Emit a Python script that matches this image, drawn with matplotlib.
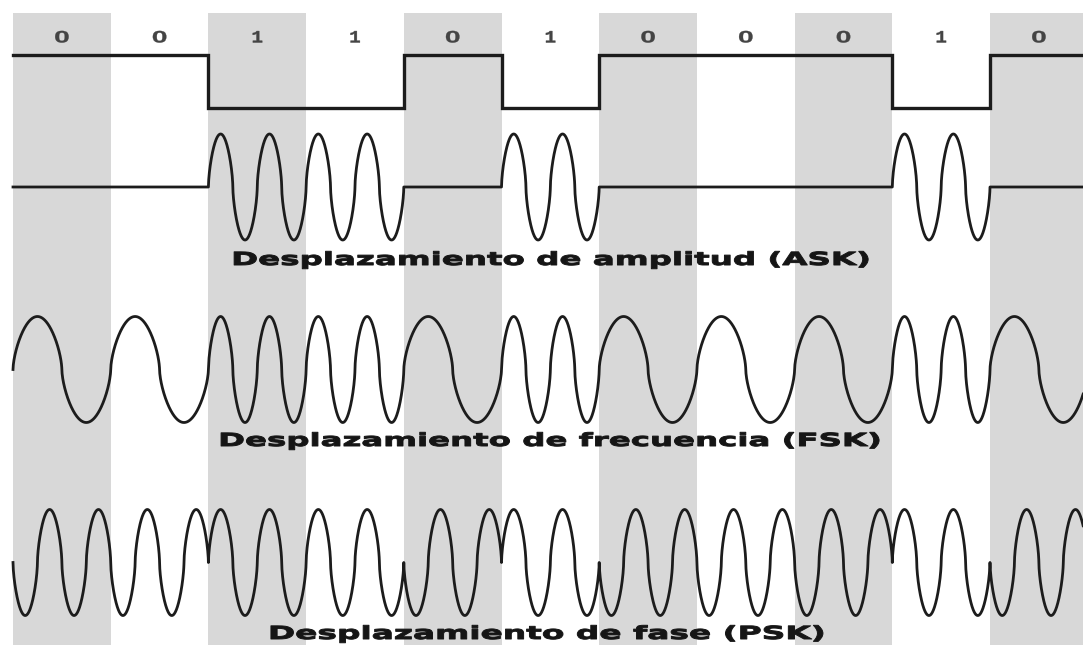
import numpy as np
import matplotlib
matplotlib.use("Agg")
import matplotlib.pyplot as plt
from matplotlib.patheffects import AbstractPathEffect
from matplotlib.transforms import Affine2D

# bit sequence shown on top
bits = [0, 0, 1, 1, 0, 1, 0, 0, 0, 1, 0]
bit_labels = [str(b) for b in bits]
titles = ["Desplazamiento de amplitud (ASK)",
          "Desplazamiento de frecuencia (FSK)",
          "Desplazamiento de fase (PSK)"]

# layout (pixel rows, y axis runs top -> bottom)
W, H = 1083, 645
X0, BIT_W = 13, 97.7
STRIPE_TOP = 13
LABEL_Y = 38
DATA_HIGH, DATA_LOW = 55, 108
ASK_BASE = 187
FSK_MID = 369.5
PSK_MID = 562.5
AMP = 53
SHAPE = 0.62          # rounder humps than a plain sine, as in the drawing
TITLE_BASE = [265, 446, 639]
TITLE_CX = [550, 549, 546]
TITLE_W = [634, 658, 552]
GRAY = "#d8d8d8"
INK = "#1c1c1c"


class Widen(AbstractPathEffect):
    """draw text stretched horizontally (to a pixel width or by a factor)"""
    def __init__(self, width_px=None, scale=None, stroke=0.7):
        super().__init__()
        self.width_px = width_px
        self.scale = scale
        self.stroke = stroke

    def draw_path(self, renderer, gc, tpath, affine, rgbFace=None):
        bb = tpath.get_extents(affine)
        cx = (bb.x0 + bb.x1) / 2
        sx = self.scale if self.scale else self.width_px / bb.width
        aff = affine + Affine2D().translate(-cx, 0).scale(sx, 1).translate(cx, 0)
        gc0 = renderer.new_gc()
        gc0.copy_properties(gc)
        gc0.set_linewidth(self.stroke)
        gc0.set_foreground(rgbFace)
        renderer.draw_path(gc0, tpath, aff, rgbFace)
        gc0.restore()


def wave(cycles, tau):
    s = np.sin(2 * np.pi * cycles * tau)
    return np.sign(s) * np.abs(s) ** SHAPE


fig = plt.figure(figsize=(W / 100, H / 100), dpi=100)
ax = fig.add_axes([0, 0, 1, 1])
ax.set_xlim(-X0 / BIT_W, (W - X0) / BIT_W)
ax.set_ylim(H, 0)
ax.axis("off")

# alternating gray stripes + bit labels
for i in range(len(bits)):
    if i % 2 == 0:
        ax.bar(i, H - STRIPE_TOP, bottom=STRIPE_TOP, width=1, align="edge",
               color=GRAY, linewidth=0, zorder=0)
    if bits[i]:
        ax.text(i + 0.5, LABEL_Y, bit_labels[i], ha="center", va="center",
                fontsize=12.5, family="Liberation Mono", fontweight="bold", color="#444444",
                path_effects=[Widen(scale=1.1, stroke=0.3)])
    else:
        ax.text(i + 0.5, LABEL_Y, bit_labels[i], ha="center", va="center",
                fontsize=12, family="Liberation Sans", fontweight="bold", color="#444444",
                path_effects=[Widen(scale=1.7, stroke=0.2)])

# data signal (1 -> low level)
levels = [DATA_LOW if b else DATA_HIGH for b in bits]
ax.step(np.arange(len(bits) + 1), levels + [levels[-1]], where="post",
        color=INK, lw=2.4, solid_joinstyle="miter")

# modulated waveforms
tau = np.linspace(0, 1, 600)
xs, ask, fsk, psk = [], [], [], []
for i, b in enumerate(bits):
    xs.append(i + tau)
    ask.append(ASK_BASE - (AMP * wave(2, tau) if b else 0 * tau))
    fsk.append(FSK_MID - AMP * wave(2 if b else 1, tau))
    sign = 1 if b else -1
    psk.append(PSK_MID - sign * AMP * wave(2, tau))
xs = np.concatenate(xs)
for y in (ask, fsk, psk):
    ax.plot(xs, np.concatenate(y), color=INK, lw=2.0)

for title, ty, cx, tw in zip(titles, TITLE_BASE, TITLE_CX, TITLE_W):
    ax.text((cx - X0) / BIT_W, ty, title, ha="center", va="baseline", fontsize=13,
            family="DejaVu Sans", fontweight="bold", color="#151515",
            path_effects=[Widen(tw)])

fig.savefig("out.png", dpi=100)
